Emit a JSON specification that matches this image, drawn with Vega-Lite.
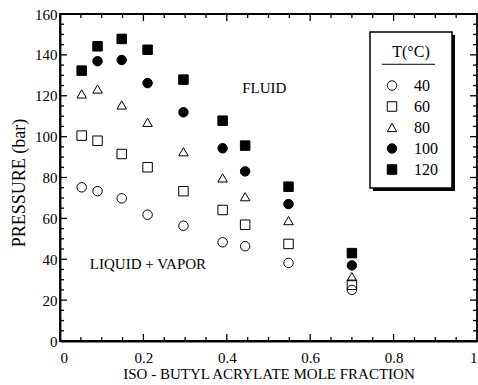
{
  "$schema": "https://vega.github.io/schema/vega-lite/v6.json",
  "width": 417,
  "height": 327,
  "autosize": {"type": "none"},
  "padding": {"left": 60, "top": 14, "right": 1, "bottom": 44},
  "data": {"values": [{"k": 1}]},
  "config": {
    "font": "Times New Roman, Liberation Serif, serif",
    "view": {"stroke": "black", "strokeWidth": 1.8},
    "axis": {
      "domainColor": "black", "domainWidth": 1.8, "tickColor": "black",
      "grid": false, "labelColor": "black", "titleColor": "black",
      "labelFont": "Times New Roman, Liberation Serif, serif", "titleFont": "Times New Roman, Liberation Serif, serif",
      "titleFontWeight": "normal", "labelFontSize": 15, "titleFontSize": 15
    }
  },
  "datasets": {
    "pts": [
      {"x": 0.052, "p": 75.2, "T": "40"}, {"x": 0.052, "p": 100.5, "T": "60"}, {"x": 0.052, "p": 120.9, "T": "80"}, {"x": 0.052, "p": 132.3, "T": "120"},
      {"x": 0.09, "p": 73.3, "T": "40"}, {"x": 0.09, "p": 98, "T": "60"}, {"x": 0.09, "p": 123.3, "T": "80"}, {"x": 0.09, "p": 136.9, "T": "100"}, {"x": 0.09, "p": 144.2, "T": "120"},
      {"x": 0.148, "p": 69.8, "T": "40"}, {"x": 0.148, "p": 91.5, "T": "60"}, {"x": 0.148, "p": 115.5, "T": "80"}, {"x": 0.148, "p": 137.5, "T": "100"}, {"x": 0.148, "p": 147.8, "T": "120"},
      {"x": 0.21, "p": 61.8, "T": "40"}, {"x": 0.21, "p": 85, "T": "60"}, {"x": 0.21, "p": 107, "T": "80"}, {"x": 0.21, "p": 126.2, "T": "100"}, {"x": 0.21, "p": 142.5, "T": "120"},
      {"x": 0.296, "p": 56.4, "T": "40"}, {"x": 0.296, "p": 73.3, "T": "60"}, {"x": 0.296, "p": 92.6, "T": "80"}, {"x": 0.296, "p": 111.9, "T": "100"}, {"x": 0.296, "p": 127.9, "T": "120"},
      {"x": 0.39, "p": 48.3, "T": "40"}, {"x": 0.39, "p": 64.1, "T": "60"}, {"x": 0.39, "p": 79.8, "T": "80"}, {"x": 0.39, "p": 94.3, "T": "100"}, {"x": 0.39, "p": 107.8, "T": "120"},
      {"x": 0.444, "p": 46.4, "T": "40"}, {"x": 0.444, "p": 56.9, "T": "60"}, {"x": 0.444, "p": 70.6, "T": "80"}, {"x": 0.444, "p": 83, "T": "100"}, {"x": 0.444, "p": 95.6, "T": "120"},
      {"x": 0.548, "p": 38.2, "T": "40"}, {"x": 0.548, "p": 47.5, "T": "60"}, {"x": 0.548, "p": 58.9, "T": "80"}, {"x": 0.548, "p": 67, "T": "100"}, {"x": 0.548, "p": 75.5, "T": "120"},
      {"x": 0.70, "p": 25, "T": "40"}, {"x": 0.70, "p": 27.5, "T": "60"}, {"x": 0.70, "p": 31.5, "T": "80"}, {"x": 0.70, "p": 37, "T": "100"}, {"x": 0.70, "p": 43, "T": "120"}
    ],
    "notes": [
      {"label": "FLUID", "x": 0.49, "p": 124},
      {"label": "LIQUID + VAPOR", "x": 0.211, "p": 37.7}
    ],
    "xt": [
      {"v": 0.05, "k": "minor"}, {"v": 0.1, "k": "minor"}, {"v": 0.15, "k": "minor"}, {"v": 0.2, "k": "major"},
      {"v": 0.25, "k": "minor"}, {"v": 0.3, "k": "minor"}, {"v": 0.35, "k": "minor"}, {"v": 0.4, "k": "major"},
      {"v": 0.45, "k": "minor"}, {"v": 0.5, "k": "minor"}, {"v": 0.55, "k": "minor"}, {"v": 0.6, "k": "major"},
      {"v": 0.65, "k": "minor"}, {"v": 0.7, "k": "minor"}, {"v": 0.75, "k": "minor"}, {"v": 0.8, "k": "major"},
      {"v": 0.85, "k": "minor"}, {"v": 0.9, "k": "minor"}, {"v": 0.95, "k": "minor"}
    ],
    "yt": [
      {"v": 5, "k": "minor"}, {"v": 10, "k": "minor"}, {"v": 15, "k": "minor"}, {"v": 20, "k": "major"},
      {"v": 25, "k": "minor"}, {"v": 30, "k": "minor"}, {"v": 35, "k": "minor"}, {"v": 40, "k": "major"},
      {"v": 45, "k": "minor"}, {"v": 50, "k": "minor"}, {"v": 55, "k": "minor"}, {"v": 60, "k": "major"},
      {"v": 65, "k": "minor"}, {"v": 70, "k": "minor"}, {"v": 75, "k": "minor"}, {"v": 80, "k": "major"},
      {"v": 85, "k": "minor"}, {"v": 90, "k": "minor"}, {"v": 95, "k": "minor"}, {"v": 100, "k": "major"},
      {"v": 105, "k": "minor"}, {"v": 110, "k": "minor"}, {"v": 115, "k": "minor"}, {"v": 120, "k": "major"},
      {"v": 125, "k": "minor"}, {"v": 130, "k": "minor"}, {"v": 135, "k": "minor"}, {"v": 140, "k": "major"},
      {"v": 145, "k": "minor"}, {"v": 150, "k": "minor"}, {"v": 155, "k": "minor"}
    ]
  },
  "layer": [
    {
      "data": {"name": "xt"},
      "transform": [{"filter": "datum.k == 'major'"}],
      "mark": {"type": "rule", "stroke": "black", "strokeWidth": 1.3},
      "encoding": {
        "x": {"field": "v", "type": "quantitative", "scale": {"domain": [0, 1], "nice": false}, "axis": null},
        "y": {"datum": 0, "type": "quantitative", "scale": {"domain": [0, 160], "nice": false}, "axis": null},
        "y2": {"datum": 3.42}
      }
    },
    {
      "data": {"name": "xt"},
      "transform": [{"filter": "datum.k == 'major'"}],
      "mark": {"type": "rule", "stroke": "black", "strokeWidth": 1.3},
      "encoding": {
        "x": {"field": "v", "type": "quantitative", "axis": null},
        "y": {"datum": 160, "type": "quantitative", "axis": null},
        "y2": {"datum": 156.58}
      }
    },
    {
      "data": {"name": "xt"},
      "transform": [{"filter": "datum.k == 'minor'"}],
      "mark": {"type": "rule", "stroke": "black", "strokeWidth": 1.3},
      "encoding": {
        "x": {"field": "v", "type": "quantitative", "axis": null},
        "y": {"datum": 0, "type": "quantitative", "axis": null},
        "y2": {"datum": 1.96}
      }
    },
    {
      "data": {"name": "xt"},
      "transform": [{"filter": "datum.k == 'minor'"}],
      "mark": {"type": "rule", "stroke": "black", "strokeWidth": 1.3},
      "encoding": {
        "x": {"field": "v", "type": "quantitative", "axis": null},
        "y": {"datum": 160, "type": "quantitative", "axis": null},
        "y2": {"datum": 158.04}
      }
    },
    {
      "data": {"name": "yt"},
      "transform": [{"filter": "datum.k == 'major'"}],
      "mark": {"type": "rule", "stroke": "black", "strokeWidth": 1.3},
      "encoding": {
        "y": {"field": "v", "type": "quantitative", "axis": null},
        "x": {"datum": 0, "type": "quantitative", "axis": null},
        "x2": {"datum": 0.0168}
      }
    },
    {
      "data": {"name": "yt"},
      "transform": [{"filter": "datum.k == 'major'"}],
      "mark": {"type": "rule", "stroke": "black", "strokeWidth": 1.3},
      "encoding": {
        "y": {"field": "v", "type": "quantitative", "axis": null},
        "x": {"datum": 1, "type": "quantitative", "axis": null},
        "x2": {"datum": 0.9832}
      }
    },
    {
      "data": {"name": "yt"},
      "transform": [{"filter": "datum.k == 'minor'"}],
      "mark": {"type": "rule", "stroke": "black", "strokeWidth": 1.3},
      "encoding": {
        "y": {"field": "v", "type": "quantitative", "axis": null},
        "x": {"datum": 0, "type": "quantitative", "axis": null},
        "x2": {"datum": 0.0096}
      }
    },
    {
      "data": {"name": "yt"},
      "transform": [{"filter": "datum.k == 'minor'"}],
      "mark": {"type": "rule", "stroke": "black", "strokeWidth": 1.3},
      "encoding": {
        "y": {"field": "v", "type": "quantitative", "axis": null},
        "x": {"datum": 1, "type": "quantitative", "axis": null},
        "x2": {"datum": 0.9904}
      }
    },
    {
      "mark": {"type": "rect", "fill": "black"},
      "encoding": {
        "x": {"datum": 0.7506, "type": "quantitative", "axis": null},
        "x2": {"datum": 0.9472},
        "y": {"datum": 149.73, "type": "quantitative", "axis": null},
        "y2": {"datum": 73.41}
      }
    },
    {
      "mark": {"type": "rect", "fill": "white", "stroke": "black", "strokeWidth": 1.5},
      "encoding": {
        "x": {"datum": 0.7434, "type": "quantitative", "axis": null},
        "x2": {"datum": 0.94},
        "y": {"datum": 151.19, "type": "quantitative", "axis": null},
        "y2": {"datum": 74.88}
      }
    },
    {
      "mark": {"type": "rule", "stroke": "black", "strokeWidth": 1},
      "encoding": {
        "x": {"datum": 0.7722, "type": "quantitative", "axis": null},
        "x2": {"datum": 0.8993},
        "y": {"datum": 135.39, "type": "quantitative", "axis": null}
      }
    },
    {
      "data": {"name": "notes"},
      "mark": {"type": "text", "font": "Times New Roman, Liberation Serif, serif", "fontSize": 15, "color": "black", "align": "center", "baseline": "middle"},
      "encoding": {
        "x": {"field": "x", "type": "quantitative", "axis": null},
        "y": {"field": "p", "type": "quantitative", "axis": null},
        "text": {"field": "label"}
      }
    },
    {
      "data": {"name": "pts"},
      "mark": {"type": "point", "filled": false, "size": 90, "opacity": 1, "strokeWidth": 1},
      "encoding": {
        "x": {"field": "x", "type": "quantitative", "scale": {"domain": [0, 1], "nice": false},
              "axis": {"orient": "bottom", "values": [0, 0.2, 0.4, 0.6, 0.8, 1], "format": "~g", "ticks": false, "labelPadding": 9,
                       "title": "ISO - BUTYL ACRYLATE MOLE FRACTION", "titlePadding": 1}},
        "y": {"field": "p", "type": "quantitative", "scale": {"domain": [0, 160], "nice": false},
              "axis": {"orient": "left", "values": [0, 20, 40, 60, 80, 100, 120, 140, 160], "ticks": false, "labelPadding": 3,
                       "title": "PRESSURE (bar)", "titleFontSize": 18, "titlePadding": 6, "titleY": 168.5}},
        "stroke": {"field": "T", "type": "nominal",
                   "scale": {"domain": ["40", "60", "80", "100", "120"], "range": ["black", "black", "black", "black", "black"]},
                   "legend": {"orient": "none", "legendX": 324, "legendY": 29.5, "title": "T(°C)", "titleAnchor": "middle",
                             "titleFontSize": 16, "titleFont": "Times New Roman, Liberation Serif, serif", "titleFontWeight": "normal", "titleColor": "black",
                             "labelFontSize": 16, "labelFont": "Times New Roman, Liberation Serif, serif", "labelColor": "black",
                             "padding": 0, "titlePadding": 18, "rowPadding": 5, "symbolSize": 90,
                             "symbolStrokeWidth": 1, "labelOffset": 14}},
        "shape": {"field": "T", "type": "nominal",
                  "scale": {"domain": ["40", "60", "80", "100", "120"], "range": ["circle", "square", "triangle-up", "circle", "square"]},
                  "legend": {"orient": "none", "legendX": 324, "legendY": 29.5, "title": "T(°C)", "titleAnchor": "middle",
                             "titleFontSize": 16, "titleFont": "Times New Roman, Liberation Serif, serif", "titleFontWeight": "normal", "titleColor": "black",
                             "labelFontSize": 16, "labelFont": "Times New Roman, Liberation Serif, serif", "labelColor": "black",
                             "padding": 0, "titlePadding": 18, "rowPadding": 5, "symbolSize": 90,
                             "symbolStrokeWidth": 1, "labelOffset": 14}},
        "fill": {"field": "T", "type": "nominal",
                 "scale": {"domain": ["40", "60", "80", "100", "120"], "range": ["transparent", "transparent", "transparent", "black", "black"]},
                 "legend": {"orient": "none", "legendX": 324, "legendY": 29.5, "title": "T(°C)", "titleAnchor": "middle",
                             "titleFontSize": 16, "titleFont": "Times New Roman, Liberation Serif, serif", "titleFontWeight": "normal", "titleColor": "black",
                             "labelFontSize": 16, "labelFont": "Times New Roman, Liberation Serif, serif", "labelColor": "black",
                             "padding": 0, "titlePadding": 18, "rowPadding": 5, "symbolSize": 90,
                             "symbolStrokeWidth": 1, "labelOffset": 14}}
      }
    }
  ],
  "resolve": {"axis": {"x": "independent", "y": "independent"}}
}
